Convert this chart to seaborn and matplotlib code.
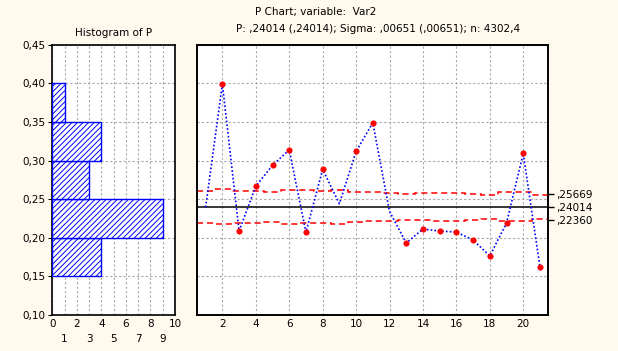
import numpy as np
import pandas as pd
import seaborn as sns
import matplotlib.pyplot as plt

# ---- data ----
samples = list(range(1, 22))
p_values = [0.2396, 0.399, 0.2087, 0.2667, 0.2938, 0.3140, 0.2070, 0.2886, 0.2440, 0.3118,
            0.3490, 0.2340, 0.1932, 0.2113, 0.2087, 0.2074, 0.1971, 0.1765, 0.2190, 0.3092, 0.1623]
ucl_values = [0.2608, 0.2628, 0.2610, 0.2610, 0.2595, 0.2620, 0.2615, 0.2612, 0.2625, 0.2595,
              0.2590, 0.2582, 0.2569, 0.2575, 0.2582, 0.2582, 0.2572, 0.2560, 0.2590, 0.2590, 0.2556]
center_line = 0.24014
limit_labels = [",25669", ",24014", ",22360"]
limit_label_values = [0.25669, 0.24014, 0.22360]
hist_edges = [0.15, 0.20, 0.25, 0.30, 0.35, 0.40]
y_ticks = [0.10, 0.15, 0.20, 0.25, 0.30, 0.35, 0.40, 0.45]
hist_major = [0, 2, 4, 6, 8, 10]
hist_minor = [1, 3, 5, 7, 9]
chart_xticks = [2, 4, 6, 8, 10, 12, 14, 16, 18, 20]

df = pd.DataFrame({"sample": samples, "p": p_values, "ucl": ucl_values})
df["lcl"] = 2 * center_line - df["ucl"]
df["out"] = (df["p"] > df["ucl"]) | (df["p"] < df["lcl"])

bg = "#FFF9EE"
blue = "#0000FF"
red = "#FF0000"

sns.set_theme(style="white")
plt.rcParams["font.family"] = ["DejaVu Sans"]
plt.rcParams["text.color"] = "black"
plt.rcParams["xtick.color"] = "black"
plt.rcParams["ytick.color"] = "black"
plt.rcParams["axes.labelcolor"] = "black"
plt.rcParams["hatch.color"] = blue
plt.rcParams["hatch.linewidth"] = 0.7

fig = plt.figure(figsize=(6.18, 3.51), dpi=100, facecolor=bg)
ax1 = fig.add_axes([52.3 / 618, 36 / 351, 122.7 / 618, 270.3 / 351])
ax2 = fig.add_axes([197.3 / 618, 36 / 351, 351 / 618, 270.3 / 351])

fs = 7.5
grid_kw = dict(color="#A8A8A8", linestyle=(0, (2, 2)), linewidth=0.8)

# ---- histogram ----
sns.histplot(y=df["p"], bins=hist_edges, ax=ax1, stat="count", color="white",
             edgecolor=blue, linewidth=1.0, hatch="//////", alpha=1, zorder=3)
ax1.set_xlim(0, 10)
ax1.set_ylim(0.10, 0.45)
ax1.set_yticks(y_ticks, labels=[f"{v:.2f}".replace(".", ",") for v in y_ticks])
ax1.set_xticks(hist_major, labels=[str(v) for v in hist_major])
ax1.set_xticks(hist_minor, labels=[str(v) for v in hist_minor], minor=True)
ax1.tick_params(axis="x", which="major", length=0, pad=3, labelsize=fs)
ax1.tick_params(axis="x", which="minor", length=0, pad=14, labelsize=fs)
ax1.tick_params(axis="y", length=3, width=0.8, color="black", labelsize=fs, pad=2, left=True)
ax1.grid(True, which="both", axis="x", **grid_kw)
ax1.grid(True, which="major", axis="y", **grid_kw)
ax1.set_axisbelow(True)
ax1.set_xlabel("")
ax1.set_ylabel("")
ax1.set_title("Histogram of P", fontsize=fs, pad=6, color="black")

# ---- P chart ----
edges = np.arange(0.5, len(samples) + 1, 1.0)
ax2.stairs(df["ucl"], edges, baseline=None, color=red, linestyle=(0, (4, 2.5)), linewidth=1.1, zorder=3)
ax2.stairs(df["lcl"], edges, baseline=None, color=red, linestyle=(0, (4, 2.5)), linewidth=1.1, zorder=3)
ax2.axhline(center_line, color="black", linewidth=1.1, zorder=3)
sns.lineplot(data=df, x="sample", y="p", ax=ax2, color=blue, linewidth=1.2,
             linestyle=(0, (1, 1.3)), zorder=4)
sns.scatterplot(data=df[df["out"]], x="sample", y="p", ax=ax2, color=red, edgecolor=red,
                s=15, marker="o", linewidth=0.5, zorder=5)
ax2.set_xlim(0.5, 21.5)
ax2.set_ylim(0.10, 0.45)
ax2.set_xticks(chart_xticks, labels=[str(v) for v in chart_xticks])
ax2.set_yticks(y_ticks, labels=[])
ax2.tick_params(axis="x", length=0, pad=3, labelsize=fs)
ax2.tick_params(axis="y", length=0)
ax2.grid(True, **grid_kw)
ax2.set_axisbelow(True)
ax2.set_xlabel("")
ax2.set_ylabel("")

ax3 = ax2.twinx()
ax3.set_ylim(ax2.get_ylim())
ax3.set_yticks(limit_label_values, labels=limit_labels)
ax3.tick_params(axis="y", length=4, width=1.0, labelsize=fs, pad=2)
for t, c in zip(ax3.yaxis.get_major_ticks(), [red, "black", red]):
    t.tick2line.set_color(c)
ax3.grid(False)

for ax in (ax1, ax2, ax3):
    for s in ax.spines.values():
        s.set_color("black")
        s.set_linewidth(1.2)
    ax.set_facecolor("white")
ax3.patch.set_alpha(0)

fig.text(316 / 618, 1 - 12 / 351, "P Chart; variable:  Var2", ha="center", va="center", fontsize=fs)
fig.text(378 / 618, 1 - 28.5 / 351, "P: ,24014 (,24014); Sigma: ,00651 (,00651); n: 4302,4",
         ha="center", va="center", fontsize=fs)

fig.savefig("out.png", dpi=100, facecolor=bg)
